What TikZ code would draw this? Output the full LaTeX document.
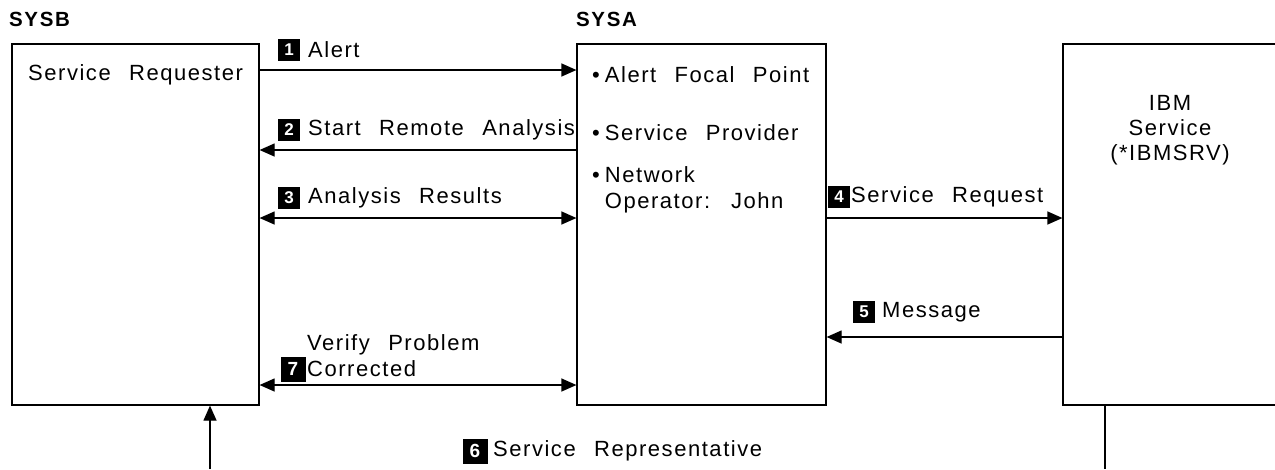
\documentclass[tikz,border=0pt]{standalone}
\usepackage{fontspec}
\setmainfont{Liberation Sans}
\newfontfamily\lbl[LetterSpace=7,WordSpace=2.4]{Liberation Sans}
\newfontfamily\ttl[LetterSpace=8]{Liberation Sans}
\usetikzlibrary{arrows.meta}
\begin{document}
\begin{tikzpicture}[x=1pt,y=-1pt,
  sysbox/.style={draw,line width=1.2pt,inner sep=0pt},
  arr/.style={line width=1.2pt,-{Triangle[length=15pt,width=13pt]}},
  darr/.style={line width=1.2pt,{Triangle[length=15pt,width=13pt]}-{Triangle[length=15pt,width=13pt]}},
  plain/.style={line width=1.2pt},
  num/.style={fill=black,text=white,font=\fontsize{17}{17}\selectfont\bfseries,minimum size=22pt,inner sep=0pt},
  bnum/.style={num,minimum size=25pt,font=\fontsize{19}{19}\selectfont\bfseries},
  txt/.style={anchor=west,inner sep=0pt,font=\fontsize{22}{26}\lbl,align=left},
  head/.style={anchor=west,inner sep=0pt,font=\fontsize{20.5}{20}\ttl\bfseries}]
\useasboundingbox (0,0) rectangle (1275,469);
\clip (0,0) rectangle (1275,469);
% boxes
\node[sysbox,minimum width=247pt,minimum height=361pt] (sysb) at (135.5,224.5) {};
\node[sysbox,minimum width=249pt,minimum height=361pt] (sysa) at (701.5,224.5) {};
\node[sysbox,minimum width=260pt,minimum height=361pt] (ibm) at (1193,224.5) {};
% headings
\node[head] (hb) at (9,19) {SYSB};
\node[head] (ha) at (576,19) {SYSA};
% box texts
\node[txt] (sr) at (28,75) {Service Requester};
\node[txt] (afp) at (592,75) {\textbullet\hspace{5pt}Alert Focal Point};
\node[txt] (sp) at (592,133) {\textbullet\hspace{5pt}Service Provider};
\node[txt,anchor=north west] (no) at (592,166) {\textbullet\hspace{5pt}Network\\\hphantom{\textbullet\hspace{5pt}}Operator: John};
\node[inner sep=0pt,align=center,font=\fontsize{22}{25}\lbl] (ibmt) at (1170,130) {IBM\\Service\\(*IBMSRV)};
% coordinates
\coordinate (y1) at (0,70);
\coordinate (y2) at (0,150);
\coordinate (y3) at (0,218);
\coordinate (y5) at (0,337);
\coordinate (y7) at (0,385);
% arrows
\draw[arr] (sysb.east |- y1) -- (sysa.west |- y1);
\draw[arr] (sysa.west |- y2) -- (sysb.east |- y2);
\draw[darr] (sysb.east |- y3) -- (sysa.west |- y3);
\draw[arr] (sysa.east |- y3) -- (ibm.west |- y3);
\draw[arr] (ibm.west |- y5) -- (sysa.east |- y5);
\draw[darr] (sysb.east |- y7) -- (sysa.west |- y7);
\coordinate (bl) at (210,469);
\coordinate (br) at (1105,469);
\draw[arr] (bl) -- (sysb.south -| bl);
\draw[plain] (ibm.south -| br) -- (br);
% labels
\node[num] (n1) at (289,50) {1};
\node[txt] (t1) at (308,50) {Alert};
\node[num] (n2) at (289,130) {2};
\node[txt] (t2) at (308,130) {Start Remote Analysis};
\node[num] (n3) at (289,198) {3};
\node[txt] (t3) at (308,198) {Analysis Results};
\node[num] (n4) at (839,197) {4};
\node[txt] (t4) at (851,197) {Service Request};
\node[num] (n5) at (864,312) {5};
\node[txt] (t5) at (882,312) {Message};
\node[bnum] (n7) at (293,369) {7};
\node[txt,anchor=north west] (t7) at (307,334) {Verify Problem\\Corrected};
\node[bnum] (n6) at (475,451) {6};
\node[txt] (t6) at (493,451) {Service Representative};
\end{tikzpicture}
\end{document}
